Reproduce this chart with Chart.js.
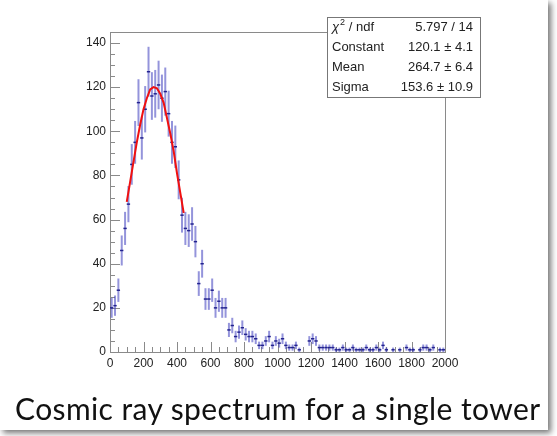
<!DOCTYPE html>
<html>
<head>
<meta charset="utf-8">
<script src="https://cdn.jsdelivr.net/npm/chart.js@4/dist/chart.umd.min.js"></script>
<style>
  body { margin: 0; background: #fff; }
  #slide { position: absolute; left: 0; top: 0; width: 548px; height: 430px; background: #fff;
           box-shadow: 3px 3px 6px rgba(0,0,0,0.55); }
  #caption { position: absolute; left: 15px; top: 390px; white-space: nowrap; letter-spacing: 0.4px;
             font-family: Lato, 'Open Sans', sans-serif; font-size: 30px; color: #111; }
</style>
</head>
<body>
<div id="slide">
  <canvas id="chart" width="548" height="430"></canvas>
</div>
<div id="caption">Cosmic ray spectrum for a single tower</div>
<script>
// bin centres (20 wide bins, 0..2000)
const binCenters = [
  10, 30, 50, 70, 90, 110, 130, 150, 170, 190,
  210, 230, 250, 270, 290, 310, 330, 350, 370, 390,
  410, 430, 450, 470, 490, 510, 530, 550, 570, 590,
  610, 630, 650, 670, 690, 710, 730, 750, 770, 790,
  810, 830, 850, 870, 890, 910, 930, 950, 970, 990,
  1010, 1030, 1050, 1070, 1090, 1110, 1130, 1150, 1170, 1190,
  1210, 1230, 1250, 1270, 1290, 1310, 1330, 1350, 1370, 1390,
  1410, 1430, 1450, 1470, 1490, 1510, 1530, 1550, 1570, 1590,
  1610, 1630, 1650, 1670, 1690, 1710, 1730, 1750, 1770, 1790,
  1810, 1830, 1850, 1870, 1890, 1910, 1930, 1950, 1970, 1990
];
const counts = [
  20, 21, 28, 46, 56, 67, 85, 95, 113, 97,
  110, 127, 116, 117, 121, 115, 118, 108, 95, 93,
  78, 62, 56, 55, 58, 50, 31, 40, 24, 24,
  28, 20, 23, 20, 20, 10, 12, 7, 9, 11,
  8, 7, 7, 6, 3, 3, 5, 7, 3, 5,
  4, 6, 3, 2, 2, 3, 1, 0, 0, 5,
  6, 5, 2, 2, 2, 2, 2, 1, 1, 2,
  1, 1, 2, 1, 1, 1, 2, 1, 1, 2,
  1, 3, 1, 0, 1, 0, 1, 0, 2, 1,
  1, 0, 1, 2, 2, 1, 2, 0, 1, 1
];
const errors = [
  4.5, 4.6, 5.3, 6.8, 7.5, 8.2, 9.2, 9.7, 10.6, 9.8,
  10.5, 11.3, 10.8, 10.8, 11, 10.7, 10.9, 10.4, 9.7, 9.6,
  8.8, 7.9, 7.5, 7.4, 7.6, 7.1, 5.6, 6.3, 4.9, 4.9,
  5.3, 4.5, 4.8, 4.5, 4.5, 3.2, 3.5, 2.6, 3, 3.3,
  2.8, 2.6, 2.6, 2.4, 1.7, 1.7, 2.2, 2.6, 1.7, 2.2,
  2, 2.4, 1.7, 1.4, 1.4, 1.7, 1, 0, 0, 2.2,
  2.4, 2.2, 1.4, 1.4, 1.4, 1.4, 1.4, 1, 1, 1.4,
  1, 1, 1.4, 1, 1, 1, 1.4, 1, 1, 1.4,
  1, 1.7, 1, 0, 1, 0, 1, 0, 1.4, 1,
  1, 0, 1, 1.4, 1.4, 1, 1.4, 0, 1, 1
];
// gaussian fit curve
const fitX = [100, 120, 140, 160, 180, 200, 220, 240, 260, 280, 300, 320, 340, 360, 380, 400, 420, 440];
const fitY = [68, 77, 86, 95, 103, 110, 115, 119, 120, 119.5, 117, 113, 106, 99, 91, 81, 72, 63];

const xTicks = [0, 200, 400, 600, 800, 1000, 1200, 1400, 1600, 1800, 2000];
const yTicks = [0, 20, 40, 60, 80, 100, 120, 140];
const statLabels = ['χ2 / ndf', 'Constant', 'Mean', 'Sigma'];
const statValues = ['5.797 / 14', '120.1 ± 4.1', '264.7 ± 6.4', '153.6 ± 10.9'];

const histPoints = [];
const histErrs = [];
binCenters.forEach((x, i) => {
  if (counts[i] > 0) {
    histPoints.push({ x: x, y: counts[i] });
    histErrs.push(errors[i]);
  }
});

const frameColor = '#8a8a8a';
const statFont = '13px "Liberation Sans", Arial, sans-serif';

// ROOT style frame with inward ticks
const rootFrame = {
  id: 'rootFrame',
  beforeDatasetsDraw(chart) {
    const { ctx, chartArea: a, scales: { x, y } } = chart;
    ctx.save();
    ctx.strokeStyle = frameColor;
    ctx.lineWidth = 1;
    ctx.strokeRect(a.left + 0.5, a.top + 0.5, a.right - a.left, a.bottom - a.top);
    ctx.beginPath();
    for (let v = 0; v <= 2000; v += 50) {
      const px = Math.round(x.getPixelForValue(v)) + 0.5;
      const len = v % 200 === 0 ? 10 : 5;
      ctx.moveTo(px, a.bottom);
      ctx.lineTo(px, a.bottom - len);
    }
    for (let v = 0; v <= 145; v += 5) {
      const py = Math.round(y.getPixelForValue(v)) + 0.5;
      const len = v % 20 === 0 ? 10 : 5;
      ctx.moveTo(a.left, py);
      ctx.lineTo(a.left + len, py);
    }
    ctx.stroke();

    // error bars
    const meta = chart.getDatasetMeta(0);
    meta.data.forEach((pt, i) => {
      const d = histPoints[i];
      const e = histErrs[i];
      const x0 = x.getPixelForValue(d.x - 10), x1 = x.getPixelForValue(d.x + 10);
      const yt = y.getPixelForValue(d.y + e), yb = y.getPixelForValue(Math.max(d.y - e, 0));
      ctx.strokeStyle = 'rgba(60,60,190,0.55)';
      ctx.lineWidth = 2;
      ctx.beginPath();
      ctx.moveTo(pt.x, yt);
      ctx.lineTo(pt.x, yb);
      ctx.stroke();
      ctx.strokeStyle = '#23238f';
      ctx.lineWidth = 1.5;
      ctx.beginPath();
      ctx.moveTo(x0, pt.y);
      ctx.lineTo(x1, pt.y);
      ctx.stroke();
    });
    ctx.restore();
  },
  afterDraw(chart) {
    const ctx = chart.ctx;
    const bx = 327, by = 17, bw = 153, bh = 80;
    ctx.save();
    ctx.fillStyle = '#fff';
    ctx.fillRect(bx, by, bw, bh);
    ctx.strokeStyle = '#777';
    ctx.lineWidth = 1;
    ctx.strokeRect(bx + 0.5, by + 0.5, bw, bh);
    ctx.fillStyle = '#222';
    ctx.font = statFont;
    ctx.textBaseline = 'middle';
    statLabels.forEach((lab, i) => {
      const ty = by + 10 + i * 20;
      ctx.textAlign = 'left';
      if (i === 0) {
        ctx.font = 'italic ' + statFont;
        ctx.fillText('χ', bx + 5, ty);
        let w = ctx.measureText('χ').width;
        ctx.font = '9px "Liberation Sans", Arial, sans-serif';
        ctx.fillText('2', bx + 6 + w, ty - 4);
        w += ctx.measureText('2').width + 1;
        ctx.font = statFont;
        ctx.fillText(' / ndf', bx + 5 + w, ty);
      } else {
        ctx.fillText(lab, bx + 5, ty);
      }
      ctx.textAlign = 'right';
      ctx.fillText(statValues[i], bx + bw - 7, ty);
    });
    ctx.restore();
  }
};

new Chart(document.getElementById('chart'), {
  type: 'scatter',
  data: {
    datasets: [
      {
        data: histPoints,
        pointRadius: 0,
        showLine: false
      },
      {
        type: 'line',
        data: fitX.map((v, i) => ({ x: v, y: fitY[i] })),
        borderColor: '#f01010',
        borderWidth: 2,
        pointRadius: 0,
        tension: 0,
        fill: false
      }
    ]
  },
  options: {
    responsive: false,
    animation: false,
    layout: { padding: { left: 0, top: 32, right: 103, bottom: 58 } },
    plugins: { legend: { display: false }, tooltip: { enabled: false } },
    scales: {
      x: {
        type: 'linear', min: 0, max: 2000,
        border: { display: false },
        grid: { display: false, drawTicks: false },
        afterBuildTicks: s => { s.ticks = xTicks.map(v => ({ value: v })); },
        afterFit: s => { s.height = 20; },
        ticks: { padding: 4, maxRotation: 0, autoSkip: false, color: '#222',
                 callback: v => String(v),
                 font: { family: 'Liberation Sans', size: 12 } }
      },
      y: {
        type: 'linear', min: 0, max: 145,
        border: { display: false },
        grid: { display: false, drawTicks: false },
        afterBuildTicks: s => { s.ticks = yTicks.map(v => ({ value: v })); },
        afterFit: s => { s.width = 110; },
        ticks: { padding: 4, color: '#222', callback: v => String(v),
                 font: { family: 'Liberation Sans', size: 12 } }
      }
    }
  },
  plugins: [rootFrame]
});
</script>
</body>
</html>
